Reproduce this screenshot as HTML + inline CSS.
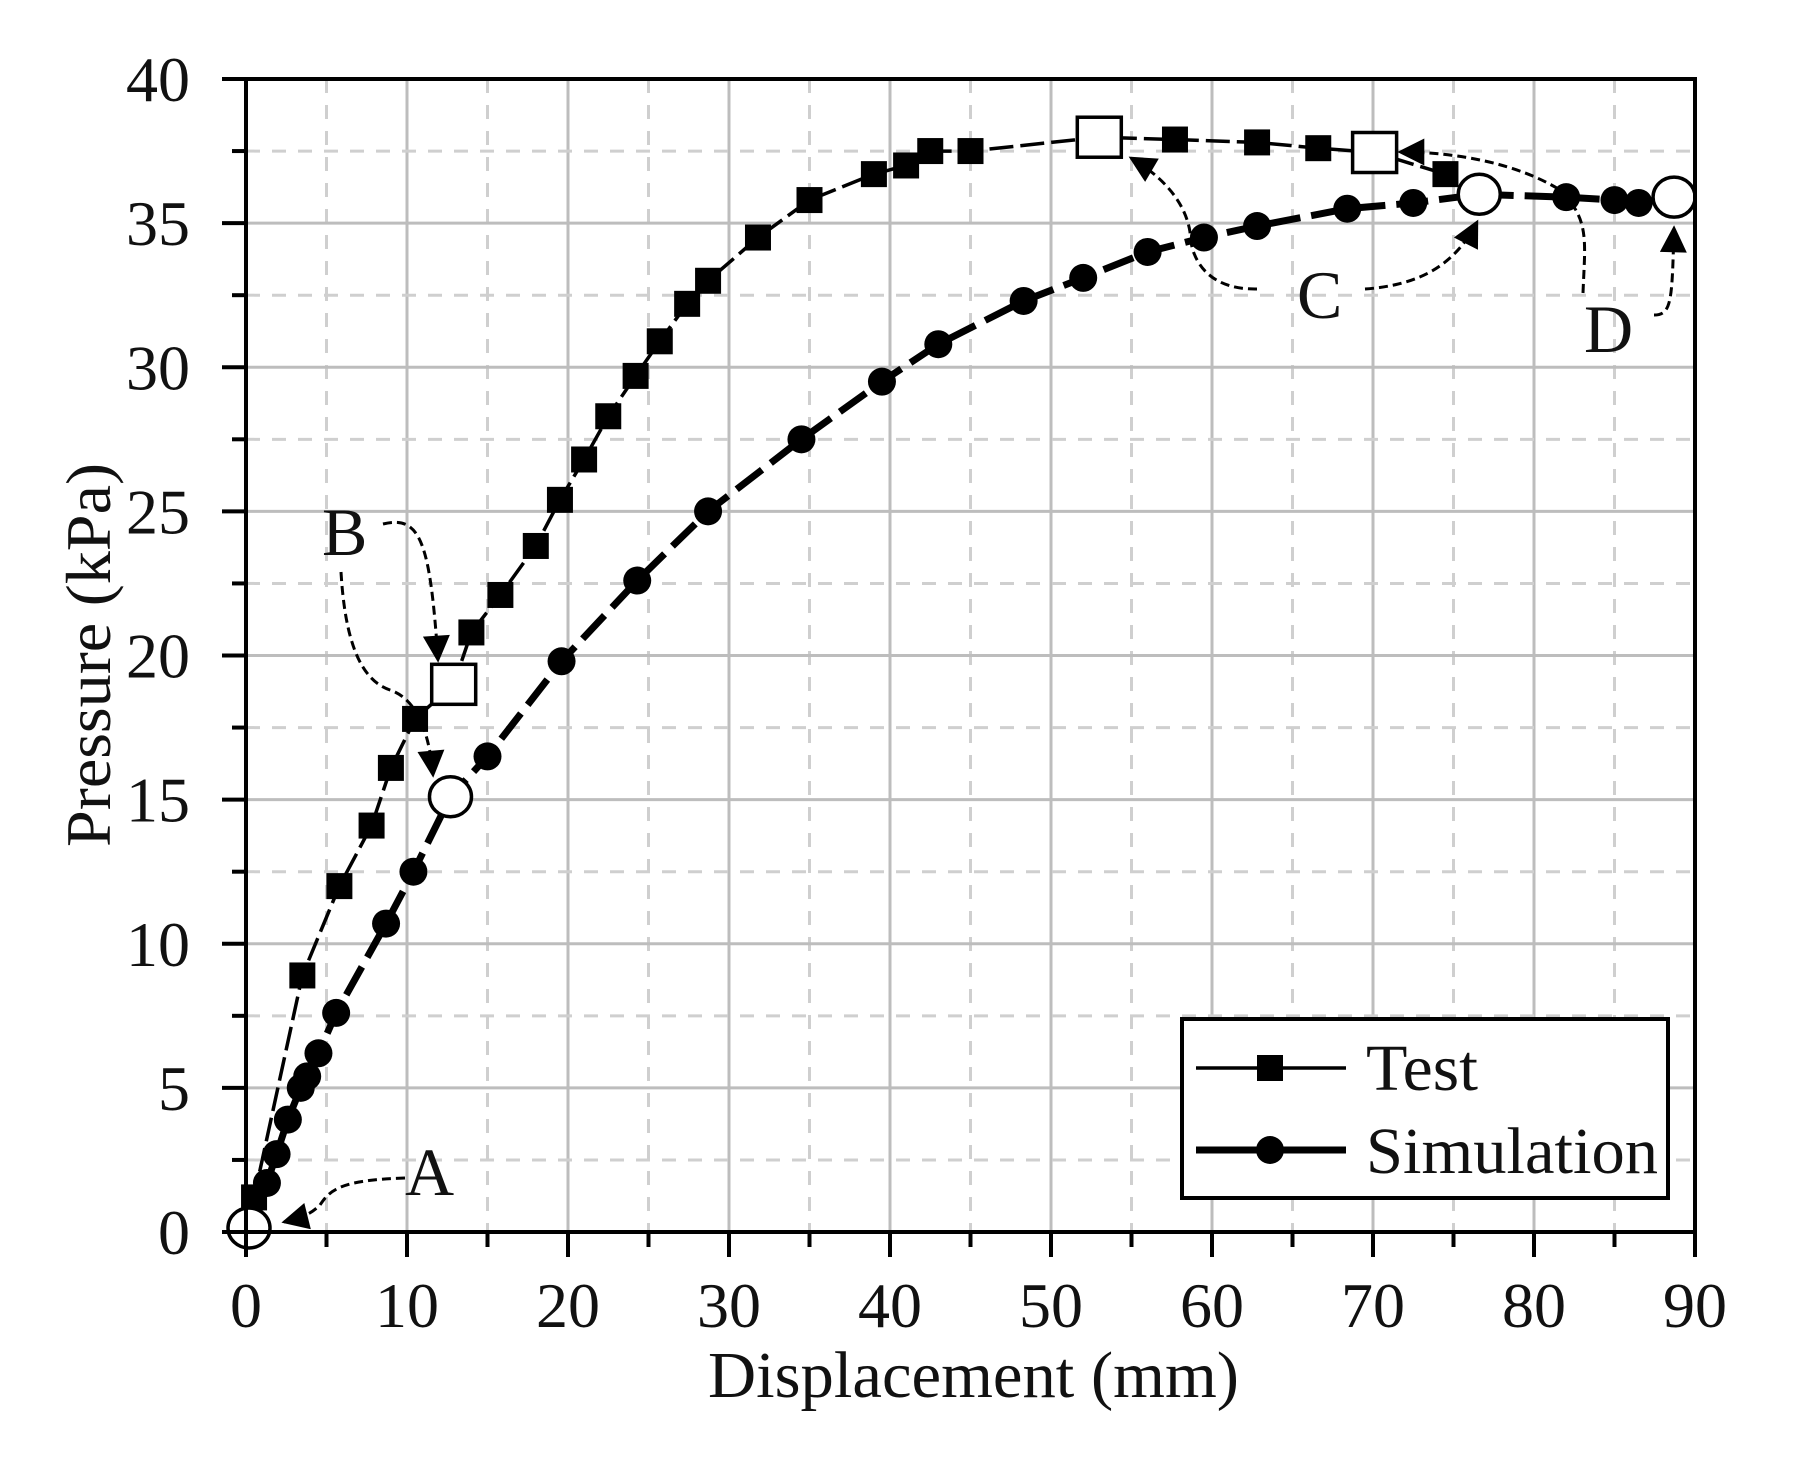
<!DOCTYPE html>
<html><head><meta charset="utf-8"><style>
html,body{margin:0;padding:0;background:#fff;}
svg{display:block;}
text{font-family:"Liberation Serif",serif;fill:#111;}
</style></head><body>
<svg width="1811" height="1462" viewBox="0 0 1811 1462" xmlns="http://www.w3.org/2000/svg">
<defs>
<marker id="ah" viewBox="0 0 10 10" refX="9" refY="5" markerWidth="10" markerHeight="9" markerUnits="strokeWidth" orient="auto"><path d="M0,0 L10,5 L0,10 z" fill="#000"/></marker>
</defs>
<rect width="1811" height="1462" fill="#fff"/>
<g id="grid"></g>
<g id="series"></g>
<g id="axes"></g>
</svg>
<script>
const NS="http://www.w3.org/2000/svg";
const X=v=>246+v*16.1, Y=p=>1232-p*28.825;
function el(t,a,parent){const e=document.createElementNS(NS,t);for(const k in a)e.setAttribute(k,a[k]);(parent||document.querySelector('svg')).appendChild(e);return e;}
const g=document.getElementById('grid'), s=document.getElementById('series'), ax=document.getElementById('axes');
for(let v=5;v<90;v+=5){const major=v%10==0;el('line',{x1:X(v),x2:X(v),y1:79,y2:1232,stroke:major?'#bdbdbd':'#cfcfcf','stroke-width':3,'stroke-dasharray':major?'':'14 12'},g);}
for(let p=2.5;p<40;p+=2.5){const major=p%5==0;el('line',{x1:246,x2:1695,y1:Y(p),y2:Y(p),stroke:major?'#bdbdbd':'#cfcfcf','stroke-width':3,'stroke-dasharray':major?'':'14 12'},g);}
const test=[[0,0],[0.5,1.2],[3.5,8.9],[5.8,12],[7.8,14.1],[9,16.1],[10.5,17.8],[12.9,19],[14,20.8],[15.8,22.1],[18,23.8],[19.5,25.4],[21,26.8],[22.5,28.3],[24.2,29.7],[25.7,30.9],[27.4,32.2],[28.7,33],[31.8,34.5],[35,35.8],[39,36.7],[41,37],[42.5,37.5],[45,37.5],[53,37.98],[57.7,37.9],[62.8,37.8],[66.6,37.6],[70.1,37.45],[74.5,36.7]];
const sim=[[0,0],[1.3,1.7],[1.9,2.7],[2.6,3.9],[3.4,5.0],[3.8,5.4],[4.5,6.2],[5.6,7.6],[8.7,10.7],[10.4,12.5],[12.7,15.1],[15,16.5],[19.6,19.8],[24.3,22.6],[28.7,25],[34.5,27.5],[39.5,29.5],[43,30.8],[48.3,32.3],[52,33.1],[56,34],[59.5,34.5],[62.8,34.9],[68.4,35.5],[72.5,35.7],[76.6,36],[82,35.9],[85,35.8],[86.5,35.7],[88.7,35.9]];
const pts=a=>a.map(q=>X(q[0])+','+Y(q[1])).join(' ');
el('polyline',{points:pts(test),fill:'none',stroke:'#000','stroke-width':3.5,'stroke-dasharray':'24 7'},s);
el('polyline',{points:pts(sim),fill:'none',stroke:'#000','stroke-width':7,'stroke-dasharray':'32 11'},s);
const openT=[12.9,53,70.1], openS=[0,12.7,76.6,88.7];
test.forEach(q=>{if(openT.includes(q[0])||q[0]==0)return;el('rect',{x:X(q[0])-13,y:Y(q[1])-13,width:26,height:26,fill:'#000'},s);});
sim.forEach(q=>{if(openS.includes(q[0]))return;el('circle',{cx:X(q[0]),cy:Y(q[1]),r:14,fill:'#000'},s);});
test.forEach(q=>{if(openT.includes(q[0]))el('rect',{x:X(q[0])-22,y:Y(q[1])-20,width:44,height:40,fill:'#fff',stroke:'#000','stroke-width':3.5},s);});
sim.forEach(q=>{if(openS.includes(q[0]))el('ellipse',{cx:X(q[0])+(q[0]==0?3:0),cy:Y(q[1])-(q[0]==0?4:0),rx:21,ry:20,fill:'#fff',stroke:'#000','stroke-width':3.5},s);});
const arr=[
 'M405,1178 C340,1180 330,1190 320,1205 C310,1215 300,1218 284,1222',
 'M383,524 C420,515 430,540 438,660',
 'M341,572 C345,640 360,680 390,690 C420,700 430,740 433,775',
 'M1257,289 C1200,290 1190,250 1190,232 C1185,200 1160,175 1131,158',
 'M1365,289 C1420,285 1455,265 1477,222',
 'M1583,293 C1585,240 1590,220 1560,190 C1520,165 1460,152 1400,152',
 'M1654,315 C1672,315 1672,300 1674,228'
];
arr.forEach(d=>el('path',{d:d,fill:'none',stroke:'#000','stroke-width':3,'stroke-dasharray':'9 5','marker-end':'url(#ah)'},s));
el('rect',{x:246,y:79,width:1449,height:1153,fill:'none',stroke:'#000','stroke-width':4},ax);
for(let v=0;v<=90;v+=5){const m=v%10==0;el('line',{x1:X(v),x2:X(v),y1:1232,y2:1232+(m?25:15),stroke:'#000','stroke-width':4},ax);
 if(m){const t=el('text',{x:X(v),y:1327,'text-anchor':'middle','font-size':64},ax);t.textContent=v;}}
for(let p=0;p<=40;p+=2.5){const m=p%5==0;el('line',{x1:246,x2:246-(m?24:14),y1:Y(p),y2:Y(p),stroke:'#000','stroke-width':4},ax);
 if(m){const t=el('text',{x:190,y:Y(p)+22,'text-anchor':'end','font-size':64},ax);t.textContent=p;}}
let t=el('text',{x:708,y:1397,'font-size':66,textLength:531,lengthAdjust:'spacingAndGlyphs'},ax);t.textContent='Displacement (mm)';
t=el('text',{x:0,y:0,'font-size':64,textLength:384,lengthAdjust:'spacingAndGlyphs',transform:'translate(110,847) rotate(-90)'},ax);t.textContent='Pressure (kPa)';
[['A',405,1195],['B',322,555],['C',1297,318],['D',1584,352]].forEach(a=>{const e=el('text',{x:a[1],y:a[2],'font-size':68},ax);e.textContent=a[0];});
el('rect',{x:1182,y:1019,width:486,height:179,fill:'#fff',stroke:'#000','stroke-width':4},ax);
el('line',{x1:1196,x2:1346,y1:1068,y2:1068,stroke:'#000','stroke-width':3.5},ax);
el('rect',{x:1257,y:1055,width:26,height:26,fill:'#000'},ax);
el('line',{x1:1196,x2:1346,y1:1150,y2:1150,stroke:'#000','stroke-width':7},ax);
el('circle',{cx:1270,cy:1150,r:14,fill:'#000'},ax);
t=el('text',{x:1366,y:1090,'font-size':66,textLength:112,lengthAdjust:'spacingAndGlyphs'},ax);t.textContent='Test';
t=el('text',{x:1366,y:1173,'font-size':66,textLength:292,lengthAdjust:'spacingAndGlyphs'},ax);t.textContent='Simulation';
</script>
</body></html>
